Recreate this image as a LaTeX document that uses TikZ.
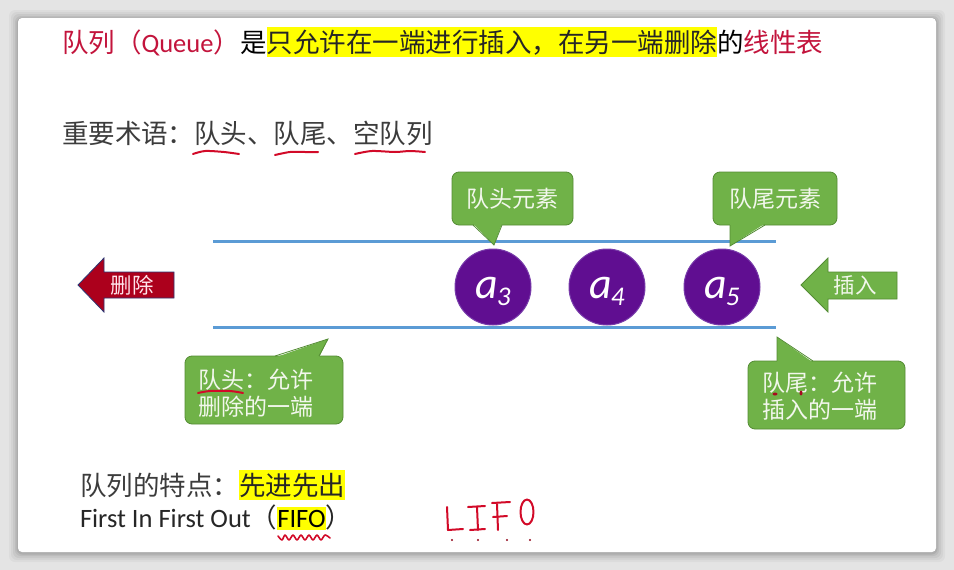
\documentclass[tikz,border=0pt]{standalone}
\usepackage{fontspec}
\setmainfont{Noto Sans CJK SC}
\newfontfamily\latf{Carlito}
\usetikzlibrary{calc}

\definecolor{titlered}{RGB}{195,20,60}
\definecolor{ink}{RGB}{60,60,60}
\definecolor{hl}{RGB}{255,255,0}
\definecolor{qblue}{RGB}{91,155,213}
\definecolor{qpurple}{RGB}{96,14,145}
\definecolor{qpurpleedge}{RGB}{120,60,170}
\definecolor{qgreen}{RGB}{112,178,72}
\definecolor{qgreenedge}{RGB}{84,140,52}
\definecolor{calltext}{RGB}{242,247,236}
\definecolor{delred}{RGB}{172,0,28}
\definecolor{deledge}{RGB}{45,55,115}
\definecolor{deltext}{RGB}{255,228,235}
\definecolor{pen}{RGB}{210,10,40}
\definecolor{bggray}{RGB}{228,228,228}

\newcommand\elemlabel[1]{{\latf\fontsize{44}{44}\selectfont\itshape a}\kern-1pt\raisebox{-7pt}{\latf\fontsize{27}{27}\selectfont\itshape #1}}

\tikzset{
  seg/.style={inner sep=0pt, outer sep=0pt, anchor=base west,
    text height=25pt, text depth=5pt, font=\fontsize{26.5}{30}\selectfont},
  hlseg/.style={seg, fill=hl},
  elem/.style={circle, fill=qpurple, draw=qpurpleedge, line width=1pt,
    minimum size=76pt, inner sep=0pt, text=white},
  callbox/.style={rectangle, rounded corners=7pt, fill=qgreen, draw=qgreenedge,
    line width=0.8pt, inner sep=0pt, text=calltext, font=\fontsize{23}{27}\selectfont},
  calltxt/.style={text=calltext, font=\fontsize{23}{27}\selectfont, inner sep=0pt,
    align=left, anchor=west},
  arrowtxt/.style={inner sep=0pt, font=\fontsize{21.5}{24}\selectfont},
  rail/.style={draw=qblue, line width=3pt},
  handpen/.style={draw=pen, line width=2pt, line cap=round, line join=round},
  pointerfill/.style={fill=qgreen},
  pointeredge/.style={draw=qgreenedge, line width=0.8pt, line join=miter},
}

\begin{document}
\begin{tikzpicture}[x=1pt,y=-1pt]
\useasboundingbox (0,0) rectangle (954,570);

% page background and slide card with a soft shadow
\fill[bggray] (0,0) rectangle (954,570);
\foreach \s/\o in {9/0.03,7/0.04,5/0.05,3/0.06,1.5/0.08}
  \fill[black, opacity=\o, rounded corners=6pt] (18-\s,18-\s+1) rectangle (936+\s,552+\s+1);
\fill[white, rounded corners=4pt] (18,18) rectangle (936,552);

% title line
\node[seg, text=titlered] (t1) at (62,52) {队列（{\latf Queue}）};
\node[seg, text=black] (t2) at (t1.base east) {是};
\node[hlseg, text=black!85] (t3) at (t2.base east) {只允许在一端进行插入，在另一端删除};
\node[seg, text=black] (t4) at (t3.base east) {的};
\node[seg, text=titlered] (t5) at (t4.base east) {线性表};

% key terms
\node[seg, text=ink] (terms) at (62,143) {重要术语：队头、队尾、空队列};
\draw[handpen] plot[smooth] coordinates {(193,154) (205,151) (224,152) (239,154)};
\draw[handpen] plot[smooth] coordinates {(275,155) (290,152) (305,152) (318,152)};
\draw[handpen] plot[smooth] coordinates {(355,154) (372,151) (395,152) (410,151) (425,152)};

% queue rails
\coordinate (rtl) at (213,241);
\coordinate (rtr) at (776,241);
\coordinate (rbl) at (213,327);
\coordinate (rbr) at (776,327);
\draw[rail] (rtl) -- (rtr);
\draw[rail] (rbl) -- (rbr);

% queue elements
\node[elem] (a3) at (493,287) {};
\node[elem] (a4) at (607,287) {};
\node[elem] (a5) at (722,287) {};
\node[text=white, inner sep=0pt] (a3l) at ($(a3.center)+(0,4)$) {\elemlabel{3}};
\node[text=white, inner sep=0pt] (a4l) at ($(a4.center)+(0,4)$) {\elemlabel{4}};
\node[text=white, inner sep=0pt] (a5l) at ($(a5.center)+(0,4)$) {\elemlabel{5}};

% delete arrow (leaves at the head)
\fill[delred, draw=deledge, line width=0.8pt]
  (78,285) -- (104,258) -- (104,272) -- (174,272) -- (174,298) -- (104,298) -- (104,312) -- cycle;
\node[arrowtxt, text=deltext] (del) at (132,285) {删除};

% insert arrow (enters at the tail)
\fill[qgreen, draw=qgreenedge, line width=0.8pt]
  (801,285) -- (828,258) -- (828,272) -- (897,272) -- (897,299) -- (828,299) -- (828,312) -- cycle;
\node[arrowtxt, text=calltext] (ins) at (855,285) {插入};

% callout: front element
\node[callbox, minimum width=121pt, minimum height=53pt] (hbox) at (512.5,198.5) {队头元素};
\coordinate (hbl) at (473,225);
\coordinate (hbr) at (502,225);
\coordinate (hbt) at (494,245);
\fill[pointerfill] ($(hbl)+(0,-1.5)$) -- (hbt) -- ($(hbr)+(0,-1.5)$) -- cycle;
\draw[pointeredge] (hbl) -- (hbt) -- (hbr);

% callout: rear element
\node[callbox, minimum width=124pt, minimum height=53pt] (tbox) at (775,198.5) {队尾元素};
\coordinate (tbl) at (730,225);
\coordinate (tbr) at (765,225);
\coordinate (tbt) at (730,246);
\fill[pointerfill] ($(tbl)+(0,-1.5)$) -- (tbt) -- ($(tbr)+(0,-1.5)$) -- cycle;
\draw[pointeredge] (tbl) -- (tbt) -- (tbr);

% callout: front end allows deletion
\node[callbox, minimum width=158pt, minimum height=68pt] (hcall) at (264,390) {};
\coordinate (hcl) at (275,356);
\coordinate (hcr) at (319,356);
\coordinate (hct) at (328,339);
\fill[pointerfill] ($(hcl)+(0,1.5)$) -- (hct) -- ($(hcr)+(0,1.5)$) -- cycle;
\draw[pointeredge] (hcl) -- (hct) -- (hcr);
\node[calltxt] (hcallt) at (198,393.5) {队头：允许\\删除的一端};
\draw[handpen] plot[smooth] coordinates {(198,393) (210,391) (230,391) (243,393)};

% callout: rear end allows insertion
\node[callbox, minimum width=157pt, minimum height=68pt] (tcall) at (826.5,395) {};
\coordinate (tcl) at (777,361);
\coordinate (tcr) at (813,361);
\coordinate (tct) at (777,337);
\fill[pointerfill] ($(tcl)+(0,1.5)$) -- (tct) -- ($(tcr)+(0,1.5)$) -- cycle;
\draw[pointeredge] (tcl) -- (tct) -- (tcr);
\node[calltxt] (tcallt) at (762,396.5) {队尾：允许\\插入的一端};
\fill[pen!80!black] (775,394) ellipse (2.5 and 1.5);
\fill[pen!80!black] (801,393) ellipse (1.5 and 2.5);

% queue property
\node[seg, text=ink] (feat) at (80,495) {队列的特点：};
\node[hlseg, text=black!85] (featv) at (feat.base east) {先进先出};
\node[seg, text=black!85] (fe1) at (80,527) {\latf First In First Out};
\node[seg, text=black!85] (fe2) at (fe1.base east) {（};
\node[hlseg, text=black, text height=20pt, text depth=3pt] (fe3) at (fe2.base east) {\latf FIFO};
\node[seg, text=black!85] (fe4) at (fe3.base east) {）};
\draw[pen, line width=1.6pt, line cap=round, line join=round]
  plot[smooth] coordinates {(278,536) (282,540) (285,535) (289,540) (293,535) (297,540) (301,535) (305,540) (309,535) (313,540) (317,535) (321,540) (325,535) (330,538)};

% handwritten LIFO
\draw[handpen] (447,507) -- (448,530) -- (463,529);
\draw[handpen] (468,507) -- (485,506);
\draw[handpen] (477,507) -- (478,530);
\draw[handpen] (470,530) -- (485,529);
\draw[handpen] (492,503) -- (510,502);
\draw[handpen] (497,504) -- (498,530);
\draw[handpen] (493,517) -- (507,516);
\draw[handpen] (527,512) ellipse (6.5 and 12.5);
\foreach \x in {452,478,507,530}
  \fill[pen!70!black] (\x,540) circle (1.2);
\end{tikzpicture}
\end{document}
